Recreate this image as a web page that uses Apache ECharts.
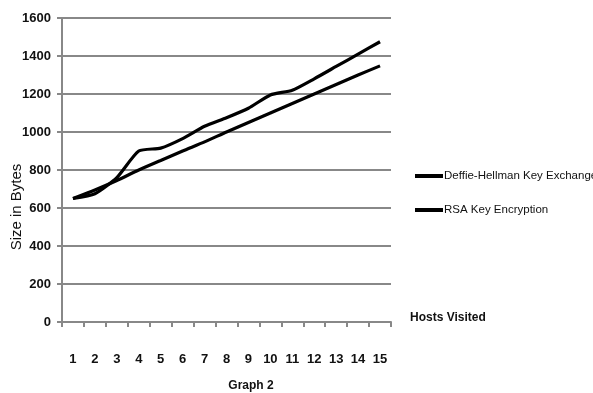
<!DOCTYPE html>
<html>
<head>
<meta charset="utf-8">
<script src="https://cdn.jsdelivr.net/npm/echarts@6/dist/echarts.min.js"></script>
<style>
  html, body { margin: 0; padding: 0; background: #fff; }
  #chart { width: 593px; height: 393px; }
</style>
</head>
<body>
<div id="chart"></div>
<script>
// Message size per number of hosts visited
var hosts = ['1','2','3','4','5','6','7','8','9','10','11','12','13','14','15'];
var diffieHellman = [650, 675, 760, 900, 915, 965, 1030, 1075, 1125, 1195, 1220, 1280, 1345, 1410, 1475];
var rsa = [650, 695, 745, 800, 850, 900, 948, 1000, 1050, 1100, 1150, 1200, 1250, 1300, 1348];
var seriesNames = ['Deffie-Hellman Key Exchange', 'RSA Key Encryption'];

var FONT = '"Liberation Sans Narrow", "Liberation Sans", Arial, sans-serif';

var chart = echarts.init(document.getElementById('chart'), null, { renderer: 'canvas' });

function lineSeries(name, data) {
  return {
    name: name,
    type: 'line',
    data: data,
    smooth: 0.2,
    symbol: 'none',
    lineStyle: { color: '#000', width: 3.2 },
    itemStyle: { color: '#000' }
  };
}

chart.setOption({
  animation: false,
  backgroundColor: '#fff',
  grid: { left: 62, right: 202, top: 18, bottom: 71, containLabel: false },
  xAxis: {
    type: 'category',
    data: hosts,
    boundaryGap: true,
    axisLine: { lineStyle: { color: '#888', width: 2 } },
    axisTick: { show: true, length: 5, lineStyle: { color: '#888', width: 2 } },
    axisLabel: { margin: 31, color: '#111', fontFamily: FONT, fontSize: 13, fontWeight: 'bold' }
  },
  yAxis: {
    type: 'value',
    min: 0,
    max: 1600,
    interval: 200,
    axisLine: { show: true, lineStyle: { color: '#888', width: 2 } },
    axisTick: { show: true, length: 5, lineStyle: { color: '#888', width: 2 } },
    splitLine: { lineStyle: { color: '#888', width: 2 } },
    axisLabel: {
      margin: 11,
      color: '#111',
      fontFamily: FONT,
      fontSize: 13,
      fontWeight: 'bold',
      formatter: function (v) { return String(v); }
    }
  },
  legend: {
    orient: 'vertical',
    left: 410,
    top: 165,
    itemGap: 22,
    itemWidth: 28,
    itemHeight: 4,
    icon: 'rect',
    data: seriesNames,
    textStyle: { color: '#111', fontFamily: FONT, fontSize: 11.5, padding: [0, 0, 0, -4] }
  },
  graphic: [
    {
      type: 'text',
      left: 410,
      top: 312,
      style: { text: 'Hosts Visited', fill: '#111', font: 'bold 12px ' + FONT }
    },
    {
      type: 'text',
      x: 251,
      y: 386,
      style: {
        text: 'Graph 2',
        fill: '#111',
        font: 'bold 12px ' + FONT,
        align: 'center',
        verticalAlign: 'middle'
      }
    },
    {
      type: 'text',
      x: 17,
      y: 207,
      rotation: Math.PI / 2,
      style: {
        text: 'Size in Bytes',
        fill: '#111',
        font: '15px ' + FONT,
        align: 'center',
        verticalAlign: 'middle'
      }
    }
  ],
  series: [
    lineSeries(seriesNames[0], diffieHellman),
    lineSeries(seriesNames[1], rsa)
  ]
});
</script>
</body>
</html>
